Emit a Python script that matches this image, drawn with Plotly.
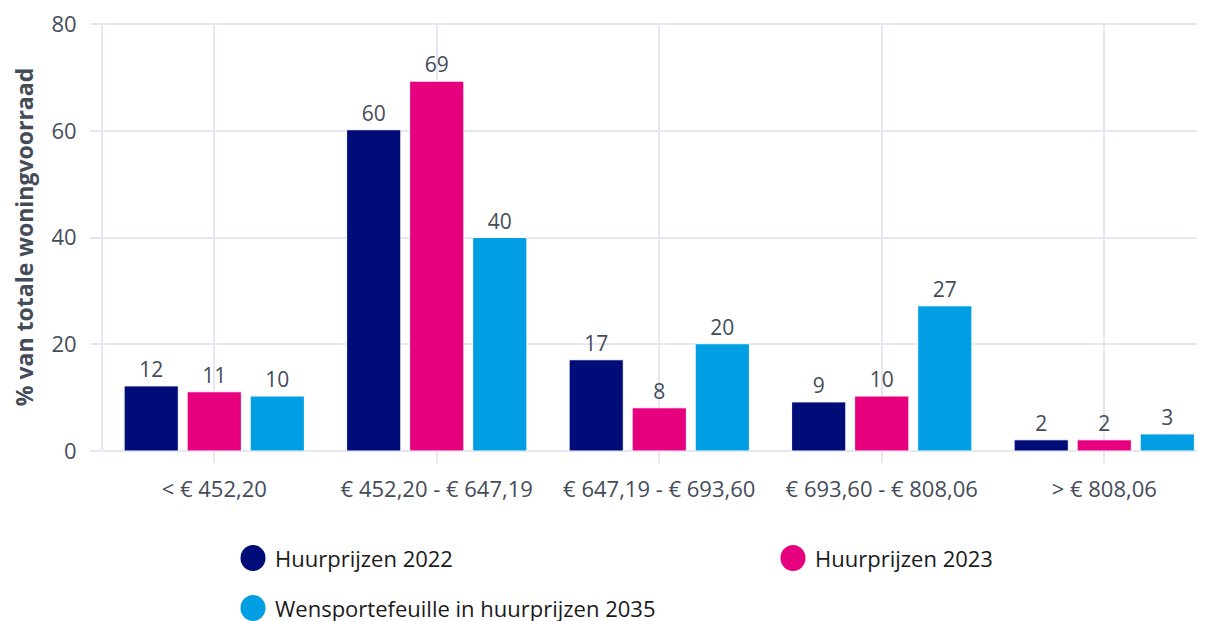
import plotly.graph_objects as go

categories = ["< € 452,20", "€ 452,20 - € 647,19", "€ 647,19 - € 693,60", "€ 693,60 - € 808,06", "> € 808,06"]
series_names = ["Huurprijzen 2022", "Huurprijzen 2023", "Wensportefeuille in huurprijzen 2035"]
huur_2022 = [12.2, 60.2, 17.1, 9.2, 2.1]
huur_2023 = [11.1, 69.3, 8.1, 10.3, 2.1]
wens_2035 = [10.3, 40.0, 20.1, 27.2, 3.2]
colors = ["#000C78", "#E6007E", "#009FE3"]
y_ticks = [0, 20, 40, 60, 80]

FONT = "Open Sans"
TXT = "#454c59"
GRID = "#E4E7F1"

# page has an 8px body margin; figure sized/positioned accordingly
W, H = 1197, 613
L, R, T, B = 95, 0, 15, 170
pw, ph = W - L - R, H - T - B
cat_px = 222.5
y_top = 80.2

fig = go.Figure()
for name, vals, col in zip(series_names, [huur_2022, huur_2023, wens_2035], colors):
    fig.add_trace(go.Bar(
        x=categories, y=vals, name=name,
        marker=dict(color=col, line=dict(color="white", width=1)),
        texttemplate="%{y:.0f}", textposition="outside",
        textfont=dict(family=FONT, size=21, color=TXT),
        constraintext="none", cliponaxis=False, textangle=0,
        showlegend=False,
    ))

# manual legend (large round markers)
legend_items = [(series_names[0], colors[0], 245, 550),
                (series_names[1], colors[1], 785, 550),
                (series_names[2], colors[2], 245, 600)]
shapes = []
annotations = []
for name, col, cx, cy in legend_items:
    xp = (cx - L) / pw
    yp = (H - B - cy) / ph
    shapes.append(dict(type="circle", xref="paper", yref="paper",
                       xsizemode="pixel", ysizemode="pixel",
                       xanchor=xp, yanchor=yp, x0=-12.5, x1=12.5, y0=-13, y1=13,
                       fillcolor=col, line=dict(width=0)))
    annotations.append(dict(text=name, xref="paper", yref="paper",
                            x=(cx + 20 - L) / pw, y=yp, xanchor="left", yanchor="middle",
                            showarrow=False, font=dict(family=FONT, size=22, color="#1a1a1a")))

fig.update_layout(
    width=W, height=H,
    margin=dict(l=L, r=R, t=T, b=B, pad=0),
    paper_bgcolor="white", plot_bgcolor="white",
    barmode="group", bargap=0.15, bargroupgap=0.14,
    font=dict(family=FONT, size=22, color=TXT),
    shapes=shapes, annotations=annotations,
    showlegend=False,
)
fig.update_xaxes(
    range=[-0.5, -0.5 + pw / cat_px],
    showgrid=True, gridcolor=GRID, gridwidth=2,
    ticks="outside", ticklen=11, tickcolor=GRID, tickwidth=2,
    ticklabelstandoff=8,
    tickfont=dict(family=FONT, size=22, color=TXT),
    showline=False, zeroline=False,
)
fig.update_yaxes(
    range=[0, y_top], tickvals=y_ticks,
    showgrid=True, gridcolor=GRID, gridwidth=2,
    ticks="outside", ticklen=11, tickcolor=GRID, tickwidth=2,
    ticklabelstandoff=9, ticklabeloverflow="allow",
    tickfont=dict(family=FONT, size=22, color=TXT),
    showline=True, linecolor=GRID, linewidth=2,
    zeroline=True, zerolinecolor=GRID, zerolinewidth=2,
    title=dict(text="<b>% van totale woningvoorraad</b>", standoff=12,
               font=dict(family=FONT, size=23, color=TXT)),
)

fig.write_html("out.html")
